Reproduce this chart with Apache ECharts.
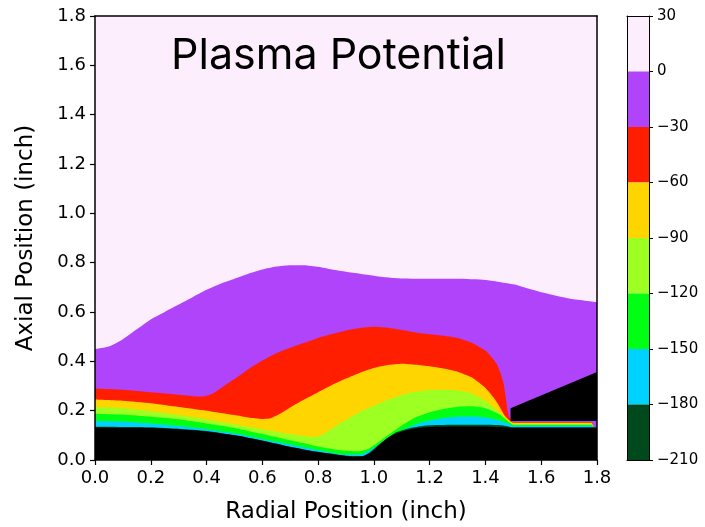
<!DOCTYPE html>
<html><head><meta charset="utf-8">
<script src="https://cdn.jsdelivr.net/npm/echarts@6/dist/echarts.min.js"></script>
<style>html,body{margin:0;padding:0;background:#fff}#c{width:705px;height:527px}</style>
</head><body><div id="c"></div>
<script>
// colour levels (colorbar)
const levels = [30, 0, -30, -60, -90, -120, -150, -180, -210];
const bandColors = ['#fdeefd','#b044fb','#ff1e00','#ffd500','#9dff22','#00ff12','#00d2ff','#00491c'];
const wallColor = '#000000';

// contour boundaries: [radial, axial] in inch
const top0 = [[0,0.45],[0.05,0.46],[0.1,0.49],[0.15,0.53],[0.2,0.57],[0.25,0.60],[0.3,0.63],[0.35,0.66],[0.4,0.69],[0.45,0.715],[0.5,0.735],[0.55,0.755],[0.6,0.772],[0.65,0.784],[0.7,0.79],[0.75,0.79],[0.8,0.783],[0.85,0.772],[0.9,0.763],[0.95,0.755],[1.0,0.747],[1.05,0.74],[1.1,0.736],[1.2,0.735],[1.3,0.735],[1.4,0.73],[1.5,0.712],[1.6,0.68],[1.7,0.655],[1.8,0.64]];
const top30 = [[0,0.29],[0.1,0.285],[0.2,0.275],[0.3,0.265],[0.38,0.257],[0.42,0.268],[0.46,0.298],[0.5,0.328],[0.55,0.368],[0.6,0.403],[0.65,0.433],[0.7,0.455],[0.75,0.475],[0.8,0.495],[0.85,0.511],[0.9,0.525],[0.95,0.535],[1.0,0.54],[1.05,0.536],[1.1,0.527],[1.15,0.517],[1.2,0.51],[1.25,0.504],[1.3,0.495],[1.35,0.476],[1.4,0.443],[1.42,0.42],[1.44,0.39],[1.455,0.35],[1.465,0.31],[1.472,0.26],[1.478,0.21],[1.485,0.175],[1.495,0.158],[1.5,0.154],[1.78,0.154],[1.79,0.131],[1.8,0.131]];
const top60 = [[0,0.245],[0.1,0.24],[0.2,0.23],[0.3,0.215],[0.4,0.20],[0.5,0.182],[0.55,0.172],[0.6,0.166],[0.63,0.169],[0.66,0.185],[0.7,0.213],[0.75,0.245],[0.8,0.275],[0.85,0.304],[0.9,0.33],[0.95,0.354],[1.0,0.373],[1.05,0.385],[1.1,0.39],[1.15,0.386],[1.2,0.38],[1.25,0.371],[1.3,0.358],[1.35,0.335],[1.4,0.292],[1.43,0.252],[1.45,0.217],[1.47,0.178],[1.49,0.156],[1.5,0.151],[1.78,0.151],[1.79,0.131],[1.8,0.131]];
const top90 = [[0,0.215],[0.1,0.21],[0.2,0.198],[0.3,0.182],[0.4,0.165],[0.5,0.145],[0.6,0.125],[0.7,0.105],[0.75,0.096],[0.79,0.093],[0.82,0.105],[0.85,0.128],[0.9,0.163],[0.95,0.195],[1.0,0.22],[1.05,0.244],[1.1,0.264],[1.15,0.277],[1.2,0.283],[1.25,0.285],[1.3,0.282],[1.35,0.27],[1.4,0.24],[1.45,0.192],[1.48,0.16],[1.5,0.147],[1.78,0.147],[1.79,0.131],[1.8,0.131]];
const top120 = [[0,0.188],[0.1,0.184],[0.2,0.175],[0.3,0.165],[0.4,0.148],[0.5,0.13],[0.6,0.105],[0.7,0.08],[0.8,0.055],[0.85,0.045],[0.9,0.037],[0.94,0.035],[0.98,0.045],[1.02,0.075],[1.06,0.108],[1.1,0.14],[1.15,0.173],[1.2,0.194],[1.25,0.207],[1.3,0.216],[1.35,0.218],[1.4,0.21],[1.45,0.185],[1.48,0.158],[1.5,0.143],[1.78,0.143],[1.79,0.131],[1.8,0.131]];
const top150 = [[0,0.158],[0.1,0.155],[0.2,0.148],[0.3,0.138],[0.4,0.125],[0.5,0.108],[0.6,0.085],[0.7,0.063],[0.8,0.04],[0.9,0.022],[0.95,0.022],[1.0,0.05],[1.05,0.09],[1.1,0.12],[1.15,0.145],[1.2,0.16],[1.25,0.17],[1.3,0.175],[1.35,0.176],[1.4,0.172],[1.45,0.16],[1.48,0.148],[1.5,0.139],[1.78,0.139],[1.79,0.131],[1.8,0.131]];
const top180 = [[0,0.135],[0.2,0.133],[0.3,0.127],[0.4,0.118],[0.5,0.101],[0.6,0.079],[0.7,0.054],[0.8,0.033],[0.9,0.017],[0.96,0.016],[1.02,0.064],[1.08,0.112],[1.12,0.127],[1.16,0.136],[1.2,0.141],[1.3,0.143],[1.4,0.143],[1.46,0.141],[1.5,0.133],[1.8,0.133]];
const wallTop = [[0,0.132],[0.1,0.131],[0.2,0.13],[0.3,0.125],[0.4,0.116],[0.5,0.10],[0.6,0.078],[0.7,0.053],[0.8,0.032],[0.85,0.024],[0.9,0.016],[0.93,0.013],[0.96,0.015],[0.99,0.03],[1.02,0.062],[1.05,0.09],[1.08,0.108],[1.12,0.122],[1.16,0.13],[1.2,0.134],[1.3,0.136],[1.4,0.136],[1.5,0.131],[1.6,0.131],[1.7,0.131],[1.8,0.131]];
const electrodeTop = [[1.49,0.21],[1.8,0.357]];
const electrodeBase = 0.158;

const fontT = 'DejaVu Sans';
function area(data, color, extra) {
  return Object.assign({
    type:'line', xAxisIndex:0, yAxisIndex:0, data: data, symbol:'none', smooth:0.18,
    lineStyle:{width:0}, areaStyle:{color:color, opacity:1, origin:'start'},
    silent:true, animation:false
  }, extra || {});
}
const cbSeries = [];
for (let i = 0; i < bandColors.length; i++) {
  const v = levels[i] - levels[i+1];
  cbSeries.push({type:'bar', xAxisIndex:2, yAxisIndex:2, stack:'cb', barWidth:'100%',
    data:[levels[i] > 0 ? v : -v], itemStyle:{color:bandColors[i]}, silent:true, animation:false});
}
const minus = v => v < 0 ? '\u2212' + Math.abs(v) : String(v);

const chart = echarts.init(document.getElementById('c'), null, {renderer:'canvas'});
chart.setOption({
  animation:false,
  title:{text:'Plasma Potential', left:166, top:30,
    textStyle:{fontFamily:'Inter', fontSize:43, fontWeight:'normal', color:'#000'}},
  grid:[
    {left:95, top:16, width:502, height:444, show:true, backgroundColor:bandColors[0], borderWidth:0, outerBoundsMode:'none', containLabel:false},
    {left:627, top:16, width:22, height:444, show:false, outerBoundsMode:'none', containLabel:false}
  ],
  xAxis:[
    {type:'value', gridIndex:0, min:0, max:1.8, interval:0.2, position:'bottom', z:10,
     name:'Radial Position (inch)', nameLocation:'middle', nameGap:41,
     nameTextStyle:{fontFamily:fontT, fontSize:23, color:'#000'},
     axisLine:{show:true, onZero:false, lineStyle:{color:'#000', width:1.5}},
     axisTick:{show:true, length:5, lineStyle:{color:'#000', width:1.2}},
     axisLabel:{fontFamily:fontT, fontSize:18, color:'#000', margin:9, formatter:v=>v.toFixed(1)},
     splitLine:{show:false}},
    {type:'value', gridIndex:0, min:0, max:1.8, position:'top', z:10,
     axisLine:{show:true, onZero:false, lineStyle:{color:'#000', width:1.5}},
     axisTick:{show:false}, axisLabel:{show:false}, splitLine:{show:false}},
    {type:'category', gridIndex:1, data:['cb'], position:'bottom', z:10,
     axisLine:{show:true, onZero:false, lineStyle:{color:'#000', width:1}},
     axisTick:{show:false}, axisLabel:{show:false}, splitLine:{show:false}},
    {type:'category', gridIndex:1, data:['cb'], position:'top', z:10,
     axisLine:{show:true, onZero:false, lineStyle:{color:'#000', width:1}},
     axisTick:{show:false}, axisLabel:{show:false}, splitLine:{show:false}}
  ],
  yAxis:[
    {type:'value', gridIndex:0, min:0, max:1.8, interval:0.2, position:'left', z:10,
     name:'Axial Position (inch)', nameLocation:'middle', nameGap:57,
     nameTextStyle:{fontFamily:fontT, fontSize:23, color:'#000'},
     axisLine:{show:true, onZero:false, lineStyle:{color:'#000', width:1.5}},
     axisTick:{show:true, length:5, lineStyle:{color:'#000', width:1.2}},
     axisLabel:{fontFamily:fontT, fontSize:18, color:'#000', margin:9, formatter:v=>v.toFixed(1)},
     splitLine:{show:false}},
    {type:'value', gridIndex:0, min:0, max:1.8, position:'right', z:10,
     axisLine:{show:true, onZero:false, lineStyle:{color:'#000', width:1.5}},
     axisTick:{show:false}, axisLabel:{show:false}, splitLine:{show:false}},
    {type:'value', gridIndex:1, min:-210, max:30, interval:30, position:'right', z:10,
     axisLine:{show:true, onZero:false, lineStyle:{color:'#000', width:1}},
     axisTick:{show:true, length:4, lineStyle:{color:'#000', width:1}},
     axisLabel:{fontFamily:fontT, fontSize:15, color:'#000', margin:8, formatter:minus},
     splitLine:{show:false}},
    {type:'value', gridIndex:1, min:-210, max:30, position:'left', z:10,
     axisLine:{show:true, onZero:false, lineStyle:{color:'#000', width:1}},
     axisTick:{show:false}, axisLabel:{show:false}, splitLine:{show:false}}
  ],
  series:[
    area(top0, bandColors[1]),
    area(top30, bandColors[2]),
    area(top60, bandColors[3]),
    area(top90, bandColors[4]),
    area(top120, bandColors[5]),
    area(top150, bandColors[6]),
    area(top180, bandColors[7]),
    area(wallTop, wallColor),
    area(electrodeTop, wallColor, {smooth:false, areaStyle:{color:wallColor, opacity:1, origin:electrodeBase}})
  ].concat(cbSeries)
});
</script>
</body></html>
